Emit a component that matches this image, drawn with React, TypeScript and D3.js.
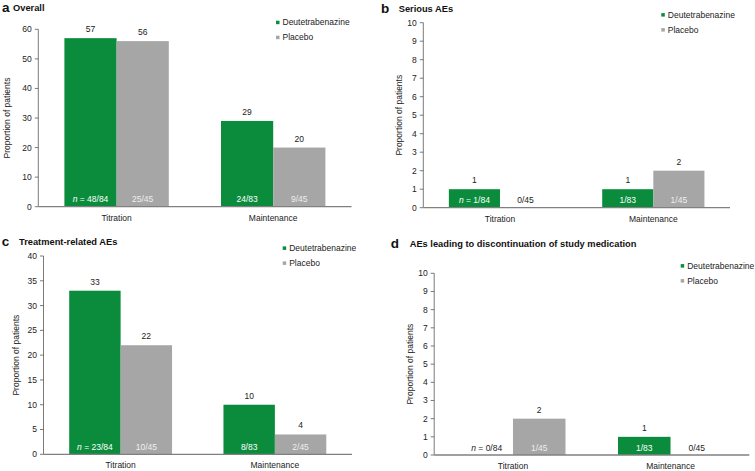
import React from "react";
import * as d3 from "d3";

const categories = ["Titration", "Maintenance"];
const seriesNames = ["Deutetrabenazine", "Placebo"];

// a: Overall
const overallDeu = [57, 29];
const overallPla = [56, 20];
const overallDeuN = ["48/84", "24/83"];
const overallPlaN = ["25/45", "9/45"];

// b: Serious AEs
const seriousDeu = [1, 1];
const seriousPla = [0, 2];
const seriousDeuN = ["1/84", "1/83"];
const seriousPlaN = ["0/45", "1/45"];

// c: Treatment-related AEs
const relatedDeu = [33, 10];
const relatedPla = [22, 4];
const relatedDeuN = ["23/84", "8/83"];
const relatedPlaN = ["10/45", "2/45"];

// d: AEs leading to discontinuation
const discDeu = [0, 1];
const discPla = [2, 0];
const discDeuN = ["0/84", "1/83"];
const discPlaN = ["1/45", "0/45"];

const GREEN = "#0a8c3c";
const GRAY = "#a6a6a6";
const FONT = "'Liberation Sans', Arial, sans-serif";

interface PanelProps {
  letter: string;
  title: string;
  deu: number[];
  pla: number[];
  deuN: string[];
  plaN: string[];
  yMax: number;
  yStep: number;
  x0: number;
  x1: number;
  yTop: number;
  yBottom: number;
  letterPos: [number, number];
  titleX: number;
  yLabelX: number;
  legend: [number, number];
}

const Panel = (p: PanelProps) => {
  const x = d3.scaleBand().domain(categories).range([p.x0, p.x1]);
  const xs = d3
    .scaleBand()
    .domain(seriesNames)
    .range([0, x.bandwidth()])
    .paddingInner(0)
    .paddingOuter(0.5);
  const y = d3.scaleLinear().domain([0, p.yMax]).range([p.yBottom, p.yTop]);
  const ticks = d3.range(0, p.yMax + p.yStep / 2, p.yStep);
  const values = [p.deu, p.pla];
  const ns = [p.deuN, p.plaN];
  const colors = [GREEN, GRAY];
  const insideColors = ["#ffffff", "#eeeeee"];

  return (
    <g fontFamily={FONT}>
      <text x={p.letterPos[0]} y={p.letterPos[1]} fontSize={13.5} fontWeight="bold" fill="#111">
        {p.letter}
      </text>
      <text x={p.titleX} y={p.letterPos[1] - 1} fontSize={9.3} fontWeight="bold" fill="#111">
        {p.title}
      </text>

      {/* y axis */}
      <line x1={p.x0} x2={p.x0} y1={p.yTop} y2={p.yBottom} stroke="#595959" strokeWidth={0.8} />
      {ticks.map((t) => (
        <g key={t}>
          <line x1={p.x0 - 3.5} x2={p.x0} y1={y(t)} y2={y(t)} stroke="#595959" strokeWidth={0.8} />
          <text x={p.x0 - 6.5} y={y(t)} dy="0.35em" textAnchor="end" fontSize={8.5} fill="#222">
            {t}
          </text>
        </g>
      ))}
      <text
        transform={`translate(${p.yLabelX},${(p.yTop + p.yBottom) / 2}) rotate(-90)`}
        textAnchor="middle"
        fontSize={8.5}
        fill="#222"
      >
        Proportion of patients
      </text>

      {/* bars */}
      {categories.map((c, ci) => (
        <g key={c}>
          {seriesNames.map((s, si) => {
            const v = values[si][ci];
            const bx = (x(c) as number) + (xs(s) as number);
            const bw = xs.bandwidth();
            const cx = bx + bw / 2;
            const showN = si === 0 && ci === 0;
            return (
              <g key={s}>
                {v > 0 && (
                  <rect x={bx} y={y(v)} width={bw} height={p.yBottom - y(v)} fill={colors[si]} />
                )}
                {v > 0 && (
                  <text x={cx} y={y(v) - 6} textAnchor="middle" fontSize={8.5} fill="#222">
                    {v}
                  </text>
                )}
                <text
                  x={cx}
                  y={p.yBottom - 4.5}
                  textAnchor="middle"
                  fontSize={8.5}
                  fill={v > 0 ? insideColors[si] : "#222"}
                >
                  {showN && <tspan fontStyle="italic">n</tspan>}
                  {showN ? " = " : ""}
                  {ns[si][ci]}
                </text>
              </g>
            );
          })}
          <text
            x={(x(c) as number) + x.bandwidth() / 2}
            y={p.yBottom + 14}
            textAnchor="middle"
            fontSize={8.5}
            fill="#222"
          >
            {c}
          </text>
        </g>
      ))}

      {/* x axis */}
      <line x1={p.x0} x2={p.x1} y1={p.yBottom} y2={p.yBottom} stroke="#808080" strokeWidth={1.3} />

      {/* legend */}
      {seriesNames.map((s, i) => (
        <g key={s} transform={`translate(${p.legend[0]},${p.legend[1] + i * 15})`}>
          <rect x={0} y={-4.6} width={3.5} height={3.5} fill={colors[i]} />
          <text x={6.5} y={0} fontSize={8.5} fill="#222">
            {s}
          </text>
        </g>
      ))}
    </g>
  );
};

const App = () => {
  return (
    <svg
      width={755}
      height={471}
      style={{ position: "absolute", left: 0, top: 0, background: "#fff" }}
    >
      <Panel
        letter="a"
        title="Overall"
        deu={overallDeu}
        pla={overallPla}
        deuN={overallDeuN}
        plaN={overallPlaN}
        yMax={60}
        yStep={10}
        x0={38.3}
        x1={351.5}
        yTop={29.3}
        yBottom={206.7}
        letterPos={[2, 11.7]}
        titleX={13}
        yLabelX={10.3}
        legend={[276, 25.3]}
      />
      <Panel
        letter="b"
        title="Serious AEs"
        deu={seriousDeu}
        pla={seriousPla}
        deuN={seriousDeuN}
        plaN={seriousPlaN}
        yMax={10}
        yStep={1}
        x0={423.3}
        x1={730}
        yTop={22.7}
        yBottom={207.7}
        letterPos={[381, 12.7]}
        titleX={398.7}
        yLabelX={402}
        legend={[661.3, 17.7]}
      />
      <Panel
        letter="c"
        title="Treatment-related AEs"
        deu={relatedDeu}
        pla={relatedPla}
        deuN={relatedDeuN}
        plaN={relatedPlaN}
        yMax={40}
        yStep={5}
        x0={43.5}
        x1={352}
        yTop={256}
        yBottom={454.3}
        letterPos={[1.7, 245.7]}
        titleX={19}
        yLabelX={18.7}
        legend={[282.7, 251]}
      />
      <Panel
        letter="d"
        title="AEs leading to discontinuation of study medication"
        deu={discDeu}
        pla={discPla}
        deuN={discDeuN}
        plaN={discPlaN}
        yMax={10}
        yStep={1}
        x0={434.2}
        x1={749.3}
        yTop={273.3}
        yBottom={455}
        letterPos={[390.7, 248]}
        titleX={409.7}
        yLabelX={413.3}
        legend={[680.7, 268.7]}
      />
    </svg>
  );
};

export default App;
